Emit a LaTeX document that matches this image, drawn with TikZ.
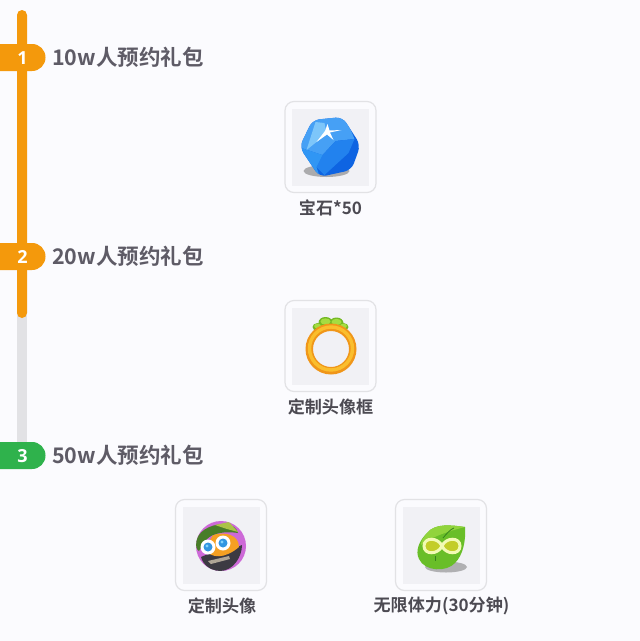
\documentclass[tikz,border=0pt]{standalone}
\usepackage{fontspec}
\setmainfont{Noto Sans CJK SC}[BoldFont={Noto Sans CJK SC Bold}]
\setsansfont{Open Sans}
\definecolor{pagebg}{HTML}{FBFBFE}
\definecolor{amber}{HTML}{F4990C}
\definecolor{track}{HTML}{E2E2E5}
\definecolor{okgreen}{HTML}{2FB24C}
\definecolor{ink}{HTML}{5E5B66}
\definecolor{ink2}{HTML}{4C4A52}
\definecolor{innerbg}{HTML}{F1F1F5}
\tikzset{
  x=1pt,y=-1pt,
  tabtext/.style={font=\sffamily\bfseries\fontsize{18}{18}\selectfont,text=white,inner sep=0pt,anchor=center},
  headtext/.style={font=\bfseries\fontsize{21.5}{22}\selectfont,text=ink,inner sep=0pt,anchor=west},
  captext/.style={font=\bfseries\fontsize{17.1}{17}\selectfont,text=ink2,inner sep=0pt,anchor=center},
  cardouter/.style={draw=track,line width=1.2pt,fill=pagebg,rounded corners=9pt,minimum width=91pt,minimum height=91pt,inner sep=0pt},
  cardinner/.style={fill=innerbg,minimum width=77pt,minimum height=77pt,inner sep=0pt}
}
\begin{document}
\begin{tikzpicture}
\useasboundingbox (0,0) rectangle (640,641);
\fill[pagebg] (0,0) rectangle (640,641);
% track
\fill[track] (17,300) rectangle (27,447);
\fill[amber,rounded corners=5pt] (17,10) rectangle (27,318);
% tabs
\fill[amber,rounded corners=13.4pt] (-20,44) rectangle (45.5,71);
\fill[amber,rounded corners=13.4pt] (-20,243) rectangle (45.5,270);
\fill[okgreen,rounded corners=13.4pt] (-20,442) rectangle (45.5,469);
\node[tabtext] (t1) at (22.5,58) {1};
\node[tabtext] (t2) at (22.5,257) {2};
\node[tabtext] (t3) at (22.5,456) {3};
\node[headtext] (h1) at (52,57.5) {10w人预约礼包};
\node[headtext] (h2) at (52,256.5) {20w人预约礼包};
\node[headtext] (h3) at (52,455.5) {50w人预约礼包};
% cards
\node[cardouter] (c1) at (330.5,147) {};
\node[cardinner] (i1) at (330.5,147) {};
\node[cardouter] (c2) at (330.5,346) {};
\node[cardinner] (i2) at (330.5,346) {};
\node[cardouter] (c3) at (221,545) {};
\node[cardinner] (i3) at (221,545) {};
\node[cardouter] (c4) at (441,545) {};
\node[cardinner] (i4) at (441,545) {};
\node[captext] (l1) at (330.5,207.5) {宝石*50};
\node[captext] (l2) at (330.5,406.5) {定制头像框};
\node[captext] (l3) at (222,605.5) {定制头像};
\node[captext] (l4) at (441.5,605.5) {无限体力(30分钟)};
% gem
\begin{scope}[shift={(330.5,147)}]
\fill[black!32!pagebg] (-4,24) ellipse[x radius=23,y radius=6];
\fill[rounded corners=7pt,fill={rgb,255:red,14;green,100;blue,226}] (-18,-27) -- (12,-30) -- (30,-2) -- (21,23) -- (-11,30) -- (-31,0) -- cycle;
\begin{scope}
\clip[rounded corners=7pt] (-18,-27) -- (12,-30) -- (30,-2) -- (21,23) -- (-11,30) -- (-31,0) -- cycle;
\fill[fill={rgb,255:red,70;green,160;blue,245}] (-20,-30) -- (14,-32) -- (24,-8) -- (5,-6) -- (-8,8) -- (-32,0) -- cycle;
\fill[fill={rgb,255:red,125;green,198;blue,250}] (-15,-25) -- (-6,-24) -- (-4,-13) -- (-24,3) -- cycle;
\fill[fill={rgb,255:red,34;green,130;blue,238}] (-8,8) -- (5,-6) -- (24,-8) -- (18,6) -- (-6,28) -- (-14,20) -- cycle;
\fill[fill={rgb,255:red,48;green,150;blue,244}] (-32,0) -- (-8,8) -- (-14,20) -- (-10,32) -- cycle;
\end{scope}
\fill[white] (-3,-23) -- (-5.5,-16) -- (-14,-5) -- (-3.5,-12.5) -- (3,-7) -- (-.5,-14.5) -- (11,-17) -- (-1,-16.5) -- cycle;
\end{scope}
% ring
\begin{scope}[shift={(330.5,346)}]
\fill[fill={rgb,255:red,115;green,185;blue,35}] (-13,-19) ellipse[x radius=5,y radius=4] (-5,-23.5) ellipse[x radius=7,y radius=5.5] (6,-23) ellipse[x radius=7,y radius=5.5] (13,-19) ellipse[x radius=5,y radius=4];
\fill[fill={rgb,255:red,165;green,220;blue,65}] (-5,-24.5) ellipse[x radius=5,y radius=3.2] (6,-24) ellipse[x radius=5,y radius=3.2] (-13,-20) ellipse[x radius=3.4,y radius=2.4] (13,-20) ellipse[x radius=3.4,y radius=2.4];
\fill[even odd rule,fill={rgb,255:red,240;green,150;blue,25}] (0.5,3) circle[radius=25.5] (0.5,3) circle[radius=18];
\draw[line width=3.4pt,color={rgb,255:red,250;green,190;blue,45}] (0.5,2.5) circle[radius=21.5];
\end{scope}
% avatar
\begin{scope}[shift={(221,545)}]
\fill[fill={rgb,255:red,205;green,105;blue,215}] (0,1) circle[radius=25];
\begin{scope}
\clip (0,1) circle[radius=25];
\fill[fill={rgb,255:red,60;green,58;blue,66}] (-20,12) .. controls (-8,6) and (8,6) .. (21,0) .. controls (21,12) and (12,26) .. (-1,26) .. controls (-10,26) and (-18,20) .. (-20,12) -- cycle;
\fill[fill={rgb,255:red,245;green,160;blue,35}] (-16,4) .. controls (-10,14) and (4,14) .. (18,2) .. controls (18,-10) and (4,-14) .. (-8,-10) -- cycle;
\fill[fill={rgb,255:red,72;green,125;blue,40}] (-25,-2) .. controls (-24,-13) and (-12,-21) .. (4,-21) .. controls (10,-21) and (16,-17) .. (17,-12) .. controls (4,-14) and (-8,-12) .. (-14,-6) .. controls (-18,-2) and (-20,3) .. (-22,6) .. controls (-25,4) and (-25,1) .. (-25,-2) -- cycle;
\fill[fill={rgb,255:red,170;green,195;blue,70}] (-6,-20) -- (8,-23) -- (17,-13) -- (6,-16) -- cycle;
\fill[fill={rgb,255:red,175;green,165;blue,150}] (-13,16) -- (8,11) -- (9,14) -- (-10,19) -- cycle;
\end{scope}
\fill[white] (-13,2) circle[radius=7.5] (2,-2) circle[radius=7.5];
\fill[fill={rgb,255:red,50;green,150;blue,225}] (-13,2) circle[radius=4.5] (2,-2) circle[radius=4.5];
\fill[fill={rgb,255:red,130;green,210;blue,250}] (-14,1) circle[radius=1.6] (1,-3) circle[radius=1.6];
\end{scope}
% leaf
\begin{scope}[shift={(441,545)}]
\fill[black!30!pagebg] (5,22) ellipse[x radius=21,y radius=5.5];
\fill[fill={rgb,255:red,105;green,190;blue,40}] (24,-18) .. controls (10,-20) and (-6,-22) .. (-14,-12) .. controls (-22,-4) and (-26,6) .. (-22,14) .. controls (-16,27) and (6,27) .. (14,18) .. controls (22,10) and (25,-4) .. (24,-18) -- cycle;
\fill[fill={rgb,255:red,145;green,212;blue,60}] (24,-18) .. controls (10,-20) and (-6,-22) .. (-14,-12) .. controls (-18,-7) and (-20,-4) .. (-20,0) .. controls (-10,-8) and (8,-14) .. (24,-18) -- cycle;
\draw[line width=.8pt,color={rgb,255:red,55;green,130;blue,30}] (-6,11) -- (-6,16);
\draw[line width=.8pt,color={rgb,255:red,55;green,130;blue,30}] (2,-7) .. controls (6,-12) and (10,-16) .. (13,-17);
\draw[line width=3pt,color={rgb,255:red,242;green,250;blue,180},fill={rgb,255:red,195;green,205;blue,40}] (1,1) .. controls (-3,-8) and (-17,-8) .. (-17,1) .. controls (-17,10) and (-3,10) .. (1,1) .. controls (5,-8) and (19,-8) .. (19,1) .. controls (19,10) and (5,10) .. (1,1) -- cycle;
\end{scope}
\end{tikzpicture}
\end{document}
